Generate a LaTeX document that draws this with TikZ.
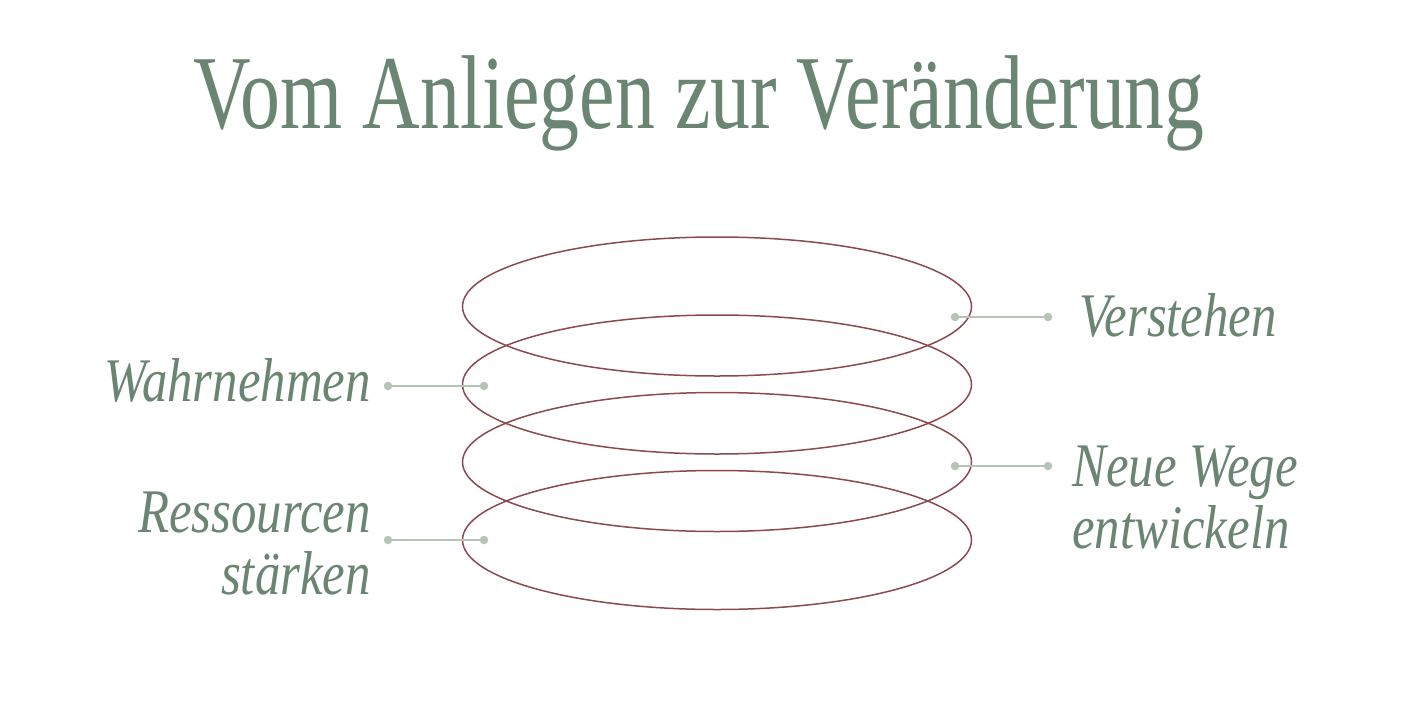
\documentclass[tikz,border=0pt]{standalone}
\usepackage{fontspec}
\setmainfont{Liberation Serif}
\newfontfamily\titlefont[FakeStretch=0.76]{Liberation Serif}
\newfontfamily\labelfont[FakeStretch=0.82]{Liberation Serif Italic}
\definecolor{sage}{HTML}{6A8571}
\definecolor{sagelight}{HTML}{B5C4B4}
\definecolor{wine}{HTML}{8B4A50}
\begin{document}
\begin{tikzpicture}[x=1pt,y=-1pt,
  ring/.style={draw=wine,line width=1.5pt},
  dotnode/.style={circle,fill=sagelight,inner sep=0pt,minimum size=8.5pt},
  conn/.style={draw=sagelight,line width=2pt},
  lbl/.style={text=sage,inner sep=0pt,font=\labelfont\fontsize{62}{62}\selectfont},
  ttl/.style={text=sage,inner sep=0pt,font=\titlefont\fontsize{105}{105}\selectfont}]
\useasboundingbox (0,0) rectangle (1417,715);
\fill[white] (0,0) rectangle (1417,715);
\node[ttl,anchor=base] (title) at (699,128) {Vom Anliegen zur Veränderung};
% rings
\draw[ring] (717,306.5) ellipse [x radius=254.5pt, y radius=69.5pt];
\draw[ring] (717,384.5) ellipse [x radius=254.5pt, y radius=69.5pt];
\draw[ring] (717,462) ellipse [x radius=254.5pt, y radius=69.5pt];
\draw[ring] (717,540) ellipse [x radius=254.5pt, y radius=69.5pt];
% connector dots
\node[dotnode] (v1) at (955,317) {};
\node[dotnode] (v2) at (1048,317) {};
\node[dotnode] (w1) at (388,386) {};
\node[dotnode] (w2) at (484,386) {};
\node[dotnode] (n1) at (955,466) {};
\node[dotnode] (n2) at (1048,466) {};
\node[dotnode] (r1) at (388,540) {};
\node[dotnode] (r2) at (484,540) {};
\draw[conn] (v1) -- (v2);
\draw[conn] (w1) -- (w2);
\draw[conn] (n1) -- (n2);
\draw[conn] (r1) -- (r2);
% labels
\node[lbl,anchor=base west] (verstehen) at (1079,336) {Verstehen};
\node[lbl,anchor=base east] (wahr) at (371,401) {Wahrnehmen};
\node[lbl,anchor=base west] (neue1) at (1072,486) {Neue Wege};
\node[lbl,anchor=base west] (neue2) at (1072,548) {entwickeln};
\node[lbl,anchor=base east] (res1) at (371,532) {Ressourcen};
\node[lbl,anchor=base east] (res2) at (371,594) {stärken};
\end{tikzpicture}
\end{document}
